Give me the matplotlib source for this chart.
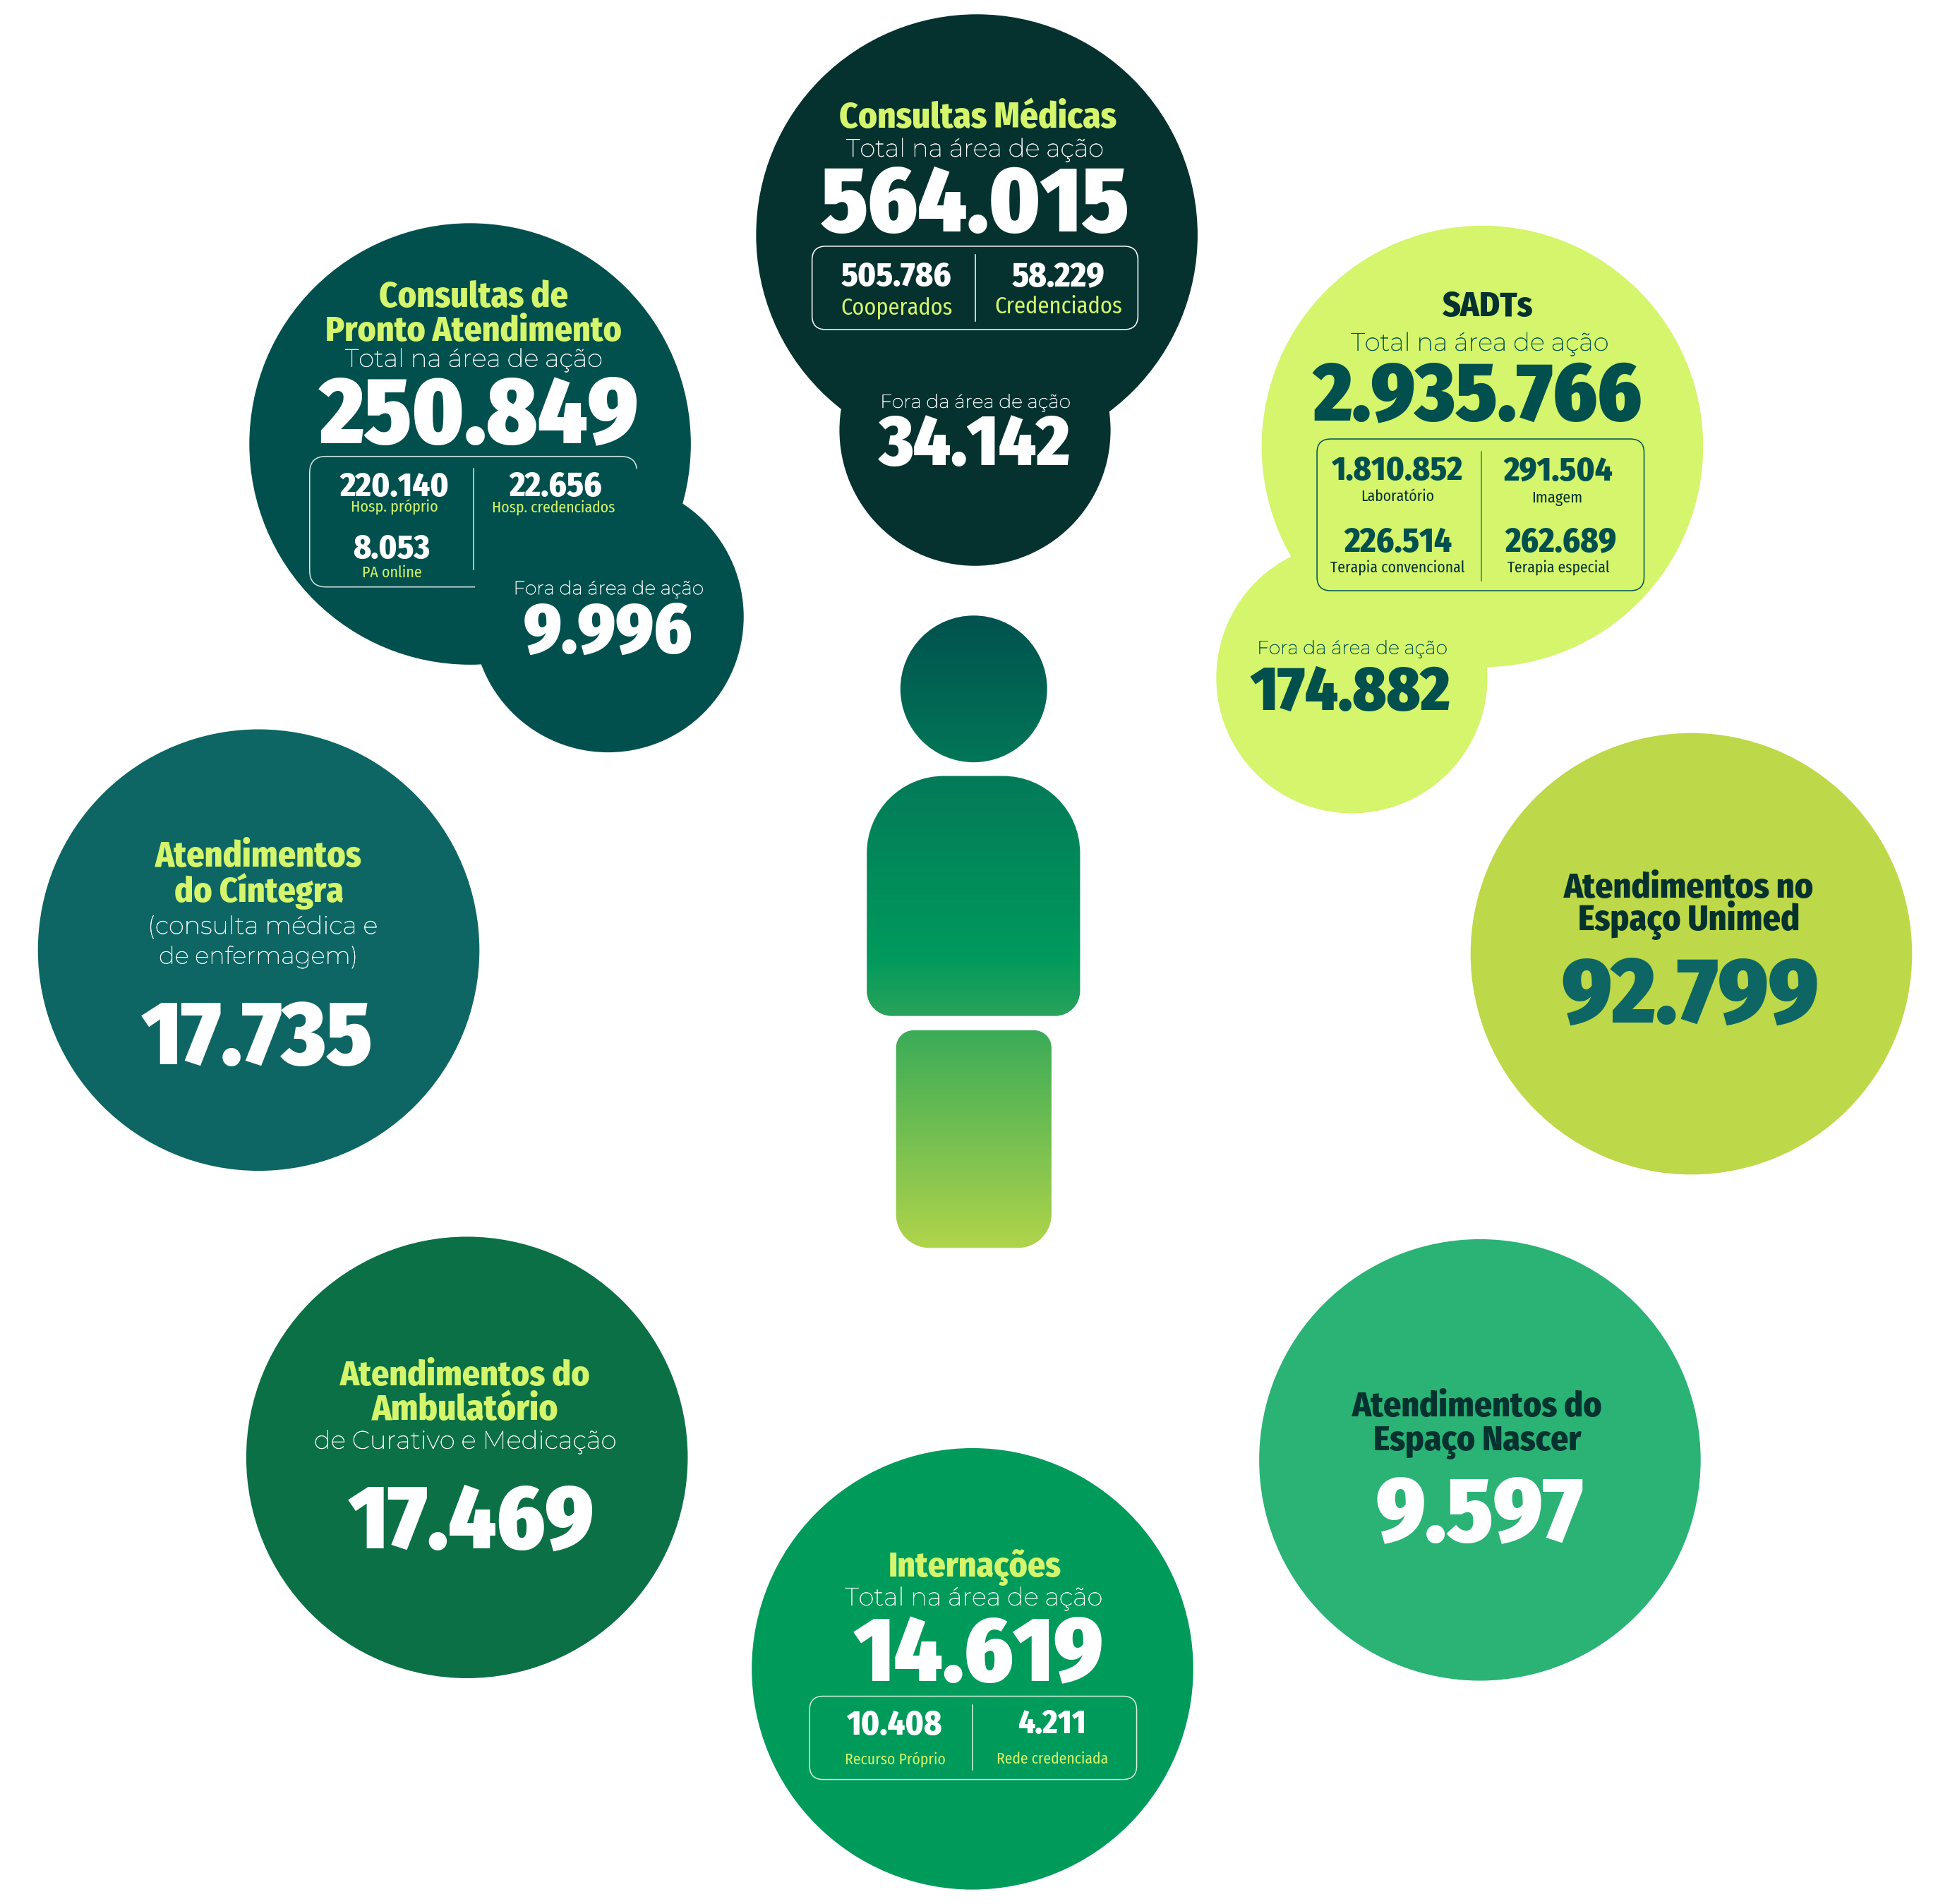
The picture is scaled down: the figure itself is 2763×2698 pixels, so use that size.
import numpy as np
import matplotlib
matplotlib.use('Agg')
import matplotlib.pyplot as plt
import matplotlib.patheffects as pe
from matplotlib.colors import LinearSegmentedColormap
from matplotlib.patches import Circle, FancyBboxPatch, PathPatch
from matplotlib.path import Path

# values
totals = ['564.015', '250.849', '2.935.766', '14.619']
outside = ['34.142', '9.996', '174.882']
consultas_split = ['505.786', '58.229']
consultas_names = ['Cooperados', 'Credenciados']
pa_split = ['220.140', '22.656', '8.053']
pa_names = ['Hosp. próprio', 'Hosp. credenciados', 'PA online']
sadt_split = ['1.810.852', '291.504', '226.514', '262.689']
sadt_names = ['Laboratório', 'Imagem', 'Terapia convencional', 'Terapia especial']
intern_split = ['10.408', '4.211']
intern_names = ['Recurso Próprio', 'Rede credenciada']
singles = ['17.735', '92.799', '17.469', '9.597']

TOTAL_TXT = 'Total na área de ação'
FORA_TXT = 'Fora da área de ação'

DARK = '#05322f'
TEAL = '#01504e'
CINT = '#0d6663'
LIME = '#d4f56c'
OLIVE = '#bdd848'
AMB = '#0b7045'
NASCER = '#2ab375'
INTERN = '#009a5b'

BOLD = ['Fira Sans Condensed', 'Roboto', 'DejaVu Sans']
LIGHT = ['Montserrat', 'Open Sans', 'DejaVu Sans']

W, H = 1568, 1531.1
fig = plt.figure(figsize=(27.63, 26.98), dpi=100)
ax = fig.add_axes([0, 0, 1, 1])
ax.axis('off')


def bubble(x, y, r, color):
    ax.add_patch(Circle((x, y), r, fc=color, ec='none', zorder=1))


def label(s, x, y, w, color='white', font=BOLD, weight=800, stroke=0.0):
    # y is the baseline, w the wanted width: the size is fitted to it
    t = ax.text(x, y, s, ha='center', va='baseline', color=color, family=font,
                weight=weight, fontsize=40, zorder=5)
    bb = t.get_window_extent(fig.canvas.get_renderer())
    t.set_fontsize(40 * w * 2763 / W / bb.width)
    if stroke:
        t.set_path_effects([pe.withStroke(linewidth=stroke, foreground=color)])
    return t


def light(s, x, y, w, color='white'):
    return label(s, x, y, w, color=color, font=LIGHT, weight=300, stroke=0.3)


def small(s, x, y, w, color):
    return label(s, x, y, w, color=color, weight=400)


def big(s, x, y, w, color='white'):
    return label(s, x + 1, y, w * 1.006, color=color, weight=900)


def box(x0, y0, x1, y1, color, rad=11, lw=1.1):
    ax.add_patch(FancyBboxPatch((x0, y0), x1 - x0, y1 - y0,
                                boxstyle=f'round,pad=0,rounding_size={rad}',
                                fc='none', ec=color, lw=lw, zorder=3))


def divider(x, y0, y1, color, lw=1.1):
    ax.plot([x, x], [y0, y1], color=color, lw=lw, zorder=3)


def body_path(x0, y0, x1, y1, rt, rb):
    # rounded block with true quarter arcs, other radius on top than below
    k = 0.5523
    verts = [(x0 + rt, y0), (x1 - rt, y0),
             (x1 - rt + k * rt, y0), (x1, y0 + rt - k * rt), (x1, y0 + rt),
             (x1, y1 - rb),
             (x1, y1 - rb + k * rb), (x1 - rb + k * rb, y1), (x1 - rb, y1),
             (x0 + rb, y1),
             (x0 + rb - k * rb, y1), (x0, y1 - rb + k * rb), (x0, y1 - rb),
             (x0, y0 + rt),
             (x0, y0 + rt - k * rt), (x0 + rt - k * rt, y0), (x0 + rt, y0)]
    codes = [Path.MOVETO, Path.LINETO] + [Path.CURVE4] * 3 + [Path.LINETO] + [Path.CURVE4] * 3 \
        + [Path.LINETO] + [Path.CURVE4] * 3 + [Path.LINETO] + [Path.CURVE4] * 3
    return Path(verts, codes)


# bubbles
for x, y, r, c in [(785.5, 189, 177.5, DARK), (784, 346, 109, DARK),
                   (378, 357, 177.5, TEAL), (489, 496, 109, TEAL),
                   (1192, 359, 177.5, LIME), (1087, 545, 109, LIME),
                   (208, 764, 177.5, CINT), (1360, 767, 177.5, OLIVE),
                   (375.5, 1172, 177.5, AMB), (1190, 1174, 177.5, NASCER),
                   (782, 1342, 177.5, INTERN)]:
    bubble(x, y, r, c)

# person in the middle, one gradient through the three parts
stops = [(0.0, '#00524f'), (0.254, '#037a58'), (0.54, '#009a5d'),
         (0.634, '#2aa35a'), (0.655, '#3aab58'), (1.0, '#b0d44a')]
cmap = LinearSegmentedColormap.from_list('person', stops)
person = Path.make_compound_path(
    Path.circle((783, 554), 59),
    body_path(697, 624, 868.5, 817, 62, 20),
    body_path(720.5, 828.5, 845.5, 1003.5, 14, 27),
)
im = ax.imshow(np.linspace(0, 1, 512)[:, None], cmap=cmap, aspect='auto',
               extent=(690, 875, 1004, 495), zorder=2)
clip = PathPatch(person, fc='none', ec='none', transform=ax.transData)
ax.add_patch(clip)
im.set_clip_path(clip)

ax.set_xlim(0, W)
ax.set_ylim(H, 0)

# Consultas Medicas
label('Consultas Médicas', 786, 103, 223, LIME)
light(TOTAL_TXT, 784, 126, 207)
big(totals[0], 783, 186, 247)
box(653, 198, 915, 265, 'white')
divider(784, 205, 258, 'white')
label(consultas_split[0], 721, 230, 89)
label(consultas_split[1], 851, 230, 75)
small(consultas_names[0], 721, 253, 90, LIME)
small(consultas_names[1], 851, 252, 103, LIME)
light(FORA_TXT, 784, 328, 153)
big(outside[0], 783, 374, 153)

# Pronto Atendimento
label('Consultas de', 381, 247, 152, LIME)
label('Pronto Atendimento', 381, 274, 238, LIME)
light(TOTAL_TXT, 381, 295, 207)
big(totals[1], 384, 356, 255)
open_box = Path([(382, 472), (262, 472), (249, 472), (249, 459), (249, 380),
                 (249, 367), (262, 367), (499, 367), (511, 367), (512, 377)],
                [Path.MOVETO, Path.LINETO, Path.CURVE3, Path.CURVE3, Path.LINETO,
                 Path.CURVE3, Path.CURVE3, Path.LINETO, Path.CURVE3, Path.CURVE3])
ax.add_patch(PathPatch(open_box, fc='none', ec='#d8e8e4', lw=1.1, zorder=3))
divider(381, 377, 458, '#d8e8e4')
label(pa_split[0], 317, 399, 88)
label(pa_split[1], 447, 399, 75)
label(pa_split[2], 315, 449, 62)
small(pa_names[0], 317, 412, 70, LIME)
small(pa_names[1], 445, 412, 99, LIME)
small(pa_names[2], 315, 464, 48, LIME)
light(FORA_TXT, 489, 478, 153)
big(outside[1], 488, 525, 135)

# SADTs
label('SADTs', 1196, 254, 73, DARK)
light(TOTAL_TXT, 1190, 282, 207, TEAL)
big(totals[2], 1187, 338, 263, TEAL)
box(1059, 353, 1322, 475, TEAL)
divider(1191, 363, 467, '#3f7f66')
label(sadt_split[0], 1124, 386, 106, TEAL)
label(sadt_split[1], 1253, 386, 88, TEAL)
label(sadt_split[2], 1124, 444, 87, TEAL)
label(sadt_split[3], 1255, 444, 90, TEAL)
small(sadt_names[0], 1124, 403, 59, DARK)
small(sadt_names[1], 1252, 404, 41, DARK)
small(sadt_names[2], 1124, 460, 108, DARK)
small(sadt_names[3], 1253, 460, 82, DARK)
light(FORA_TXT, 1087, 526, 153, TEAL)
big(outside[2], 1085, 571, 160, TEAL)

# Integra
label('Atendimentos', 208, 697, 166, LIME)
label('do Cíntegra', 208, 725, 136, LIME)
light('(consulta médica e', 211, 751, 185)
light('de enfermagem)', 208, 775, 160)
big(singles[0], 206, 856, 185)

# Espaco Unimed
label('Atendimentos no', 1358, 722, 201, DARK)
label('Espaço Unimed', 1358, 748, 178, DARK)
big(singles[1], 1358, 822, 206, CINT)

# Ambulatorio
label('Atendimentos do', 374, 1114, 201, LIME)
label('Ambulatório', 374, 1142, 150, LIME)
light('de Curativo e Medicação', 374, 1165, 243)
big(singles[2], 378, 1245, 197)

# Espaco Nascer
label('Atendimentos do', 1188, 1139, 201, DARK)
label('Espaço Nascer', 1188, 1166, 167, DARK)
big(singles[3], 1189, 1239, 166)

# Internacoes
label('Internações', 784, 1268, 139, LIME)
light(TOTAL_TXT, 783, 1291, 207)
big(totals[3], 786, 1352, 200)
box(651, 1364, 914, 1431, '#d8f0e0')
divider(782, 1371, 1423, '#d8f0e0')
label(intern_split[0], 719, 1395, 77)
label(intern_split[1], 846, 1394, 55)
small(intern_names[0], 720, 1419, 81, LIME)
small(intern_names[1], 846, 1418, 90, LIME)

fig.savefig('out.png', dpi=100, facecolor='white')
